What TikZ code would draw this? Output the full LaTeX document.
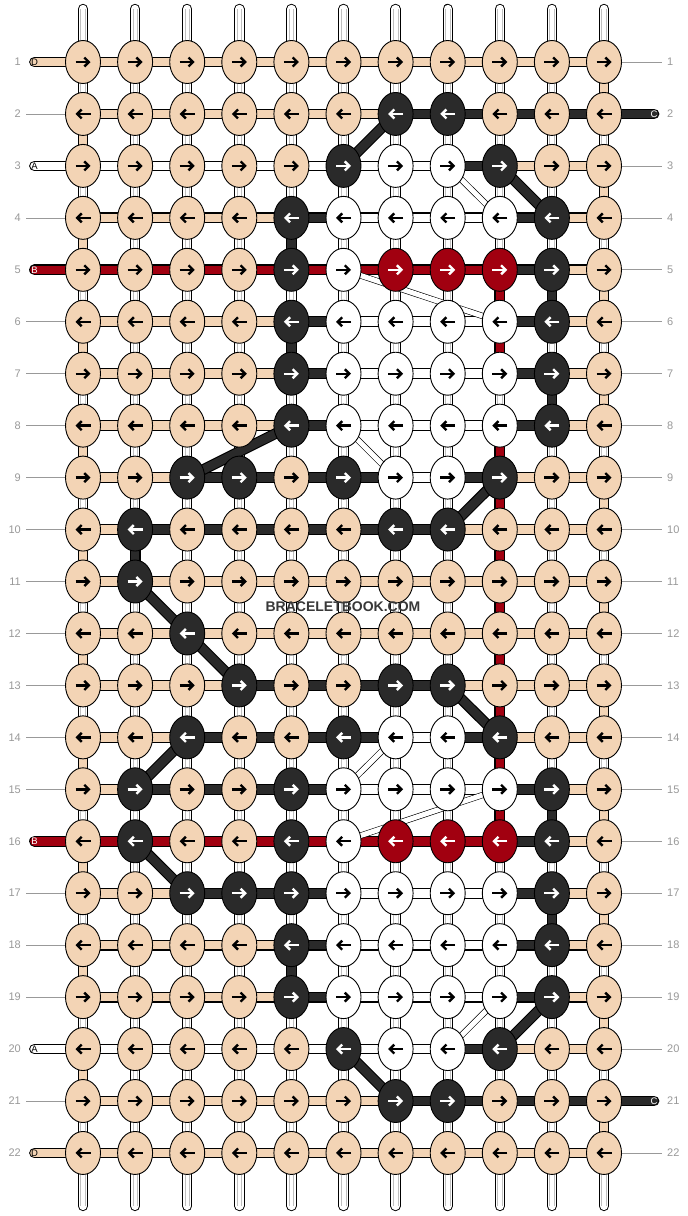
\documentclass[tikz,border=0pt]{standalone}
\usepackage{fontspec}
\setmainfont{Liberation Sans}
\usetikzlibrary{shapes.geometric,arrows.meta,calc}

\definecolor{kP}{HTML}{F3D4B5}
\definecolor{kK}{HTML}{2A2A2A}
\definecolor{kW}{HTML}{FFFFFF}
\definecolor{kR}{HTML}{A10010}
\colorlet{aP}{black}
\colorlet{aW}{black}
\colorlet{aK}{white}
\colorlet{aR}{white}
\colorlet{numgray}{black!40}

\pgfdeclarelayer{strands}
\pgfdeclarelayer{links}
\pgfsetlayers{strands,links,main}

\tikzset{
  knot/.style={ellipse, draw=black, line width=0.9pt, minimum width=35pt, minimum height=43pt, inner sep=0pt, fill=k#1},
  link/.style={line width=1.1pt, draw=black, double=k#1, double distance=8.6pt},
  strand/.style={line width=1pt, draw=black, double=white, double distance=8.4pt, line cap=round},
  thread/.style={line width=0.6pt, draw=black, double=white, double distance=5pt},
  karrow/.style={line width=2.4pt, -{Straight Barb[length=4.5pt,width=9pt]}, color=a#1},
  rownum/.style={text=numgray, font=\fontsize{11}{11}\selectfont, inner sep=0pt},
  tag/.style={font=\fontsize{9.5}{9.5}\selectfont, inner sep=0pt},
  numline/.style={numgray, line width=0.7pt}
}

\begin{document}
\begin{tikzpicture}[x=1pt,y=-1pt]
\useasboundingbox (0,0) rectangle (688,1216);
\begin{pgfonlayer}{strands}
\fill[white] (0,0) rectangle (688,1216);
\end{pgfonlayer}

% knots
\foreach \r/\row in {
  1/{P,P,P,P,P,P,P,P,P,P,P}, 2/{P,P,P,P,P,P,K,K,P,P,P},
  3/{P,P,P,P,P,K,W,W,K,P,P}, 4/{P,P,P,P,K,W,W,W,W,K,P},
  5/{P,P,P,P,K,W,R,R,R,K,P}, 6/{P,P,P,P,K,W,W,W,W,K,P},
  7/{P,P,P,P,K,W,W,W,W,K,P}, 8/{P,P,P,P,K,W,W,W,W,K,P},
  9/{P,P,K,K,P,K,W,W,K,P,P}, 10/{P,K,P,P,P,P,K,K,P,P,P},
  11/{P,K,P,P,P,P,P,P,P,P,P}, 12/{P,P,K,P,P,P,P,P,P,P,P},
  13/{P,P,P,K,P,P,K,K,P,P,P}, 14/{P,P,K,P,P,K,W,W,K,P,P},
  15/{P,K,P,P,K,W,W,W,W,K,P}, 16/{P,K,P,P,K,W,R,R,R,K,P},
  17/{P,P,K,K,K,W,W,W,W,K,P}, 18/{P,P,P,P,K,W,W,W,W,K,P},
  19/{P,P,P,P,K,W,W,W,W,K,P}, 20/{P,P,P,P,P,K,W,W,K,P,P},
  21/{P,P,P,P,P,P,K,K,P,P,P}, 22/{P,P,P,P,P,P,P,P,P,P,P}} {
  \ifodd\r \def\dir{1}\else\def\dir{-1}\fi
  \foreach \col [count=\kc] in \row {
    \node[knot=\col] (k-\r-\kc) at ({83+52.1*(\kc-1)},{62+51.95*(\r-1)}) {};
    \draw[karrow=\col] ($(k-\r-\kc.center)+({-7.5*\dir},0)$) -- ($(k-\r-\kc.center)+({7.5*\dir},0)$);
  }
}

% white warp strands
\begin{pgfonlayer}{strands}
\foreach \kc in {1,...,11} {
  \draw[strand] (k-1-\kc.center) ++(0,-53) -- ($(k-22-\kc.center)+(0,53)$);
  \draw[black!25, line width=0.5pt] ($(k-1-\kc.center)+(-2.3,-53)$) -- ($(k-22-\kc.center)+(-2.3,53)$)
    ($(k-1-\kc.center)+(2.3,-53)$) -- ($(k-22-\kc.center)+(2.3,53)$);
}
\end{pgfonlayer}

\begin{pgfonlayer}{links}
% rows
\foreach \r/\row in {
  1/{P,P,P,P,P,P,P,P,P,P}, 2/{P,P,P,P,P,P,K,K,K,K},
  3/{W,W,W,W,W,W,W,K,P,P}, 4/{P,P,P,P,K,W,W,W,K,P},
  5/{R,R,R,R,R,R,R,R,K,P}, 6/{P,P,P,P,K,W,W,W,K,P},
  7/{P,P,P,P,K,W,W,W,K,P}, 8/{P,P,P,P,K,W,W,W,K,P},
  9/{P,P,K,K,K,K,W,K,P,P}, 10/{P,K,K,K,K,K,K,P,P,P},
  11/{P,P,P,P,P,P,P,P,P,P}, 12/{P,P,P,P,P,P,P,P,P,P},
  13/{P,P,P,K,K,K,K,P,P,P}, 14/{P,P,K,K,K,K,W,K,P,P},
  15/{P,K,K,K,K,W,W,W,K,P}, 16/{R,R,R,R,R,R,R,R,K,P},
  17/{P,P,K,K,K,W,W,W,K,P}, 18/{P,P,P,P,K,W,W,W,K,P},
  19/{P,P,P,P,K,W,W,W,K,P}, 20/{W,W,W,W,W,W,W,K,P,P},
  21/{P,P,P,P,P,P,K,K,K,K}, 22/{P,P,P,P,P,P,P,P,P,P}} {
  \foreach \col [count=\kc] in \row {
    \pgfmathtruncatemacro\n{\kc+1}
    \draw[link=\col] (k-\r-\kc.center) -- (k-\r-\n.center);
  }
}
% turns at the edges
\foreach \g in {1,...,21} {
  \pgfmathtruncatemacro\kc{ifthenelse(mod(\g,2)==1,11,1)}
  \pgfmathtruncatemacro\n{\g+1}
  \draw[link=P] (k-\g-\kc.center) -- (k-\n-\kc.center);
}
\foreach \g/\kc/\col in {4/5/K, 5/9/R, 5/10/K, 6/5/K, 6/9/R, 7/10/K, 8/9/R, 9/9/R,
    10/2/K, 10/9/R, 11/9/R, 12/9/R, 13/9/R, 14/9/R, 15/9/R, 15/10/K, 17/10/K, 18/5/K} {
  \pgfmathtruncatemacro\n{\g+1}
  \draw[link=\col] (k-\g-\kc.center) -- (k-\n-\kc.center);
}
% hidden white threads
\foreach \a/\b/\c/\d in {3/8/4/9, 5/6/6/9, 8/6/9/7, 14/7/15/6, 15/9/16/6, 19/9/20/8}
  \draw[thread] (k-\a-\b.center) -- (k-\c-\d.center);
% black diagonals
\foreach \a/\b/\c/\d in {2/7/3/6, 3/9/4/10, 8/5/9/3, 9/9/10/8, 11/2/12/3, 12/3/13/4,
    13/8/14/9, 14/3/15/2, 16/2/17/3, 19/10/20/9, 20/6/21/7}
  \draw[link=K] (k-\a-\b.center) -- (k-\c-\d.center);
\end{pgfonlayer}

% string ends
\foreach \r/\col/\t/\tc in {1/P/D/black, 3/W/A/black, 5/R/B/white, 16/R/B/white, 20/W/A/black, 22/P/D/black} {
  \node[tag, text=\tc] (t-\r) at ($(k-\r-1.center)+(-48.5,0)$) {\t};
  \begin{pgfonlayer}{links}
  \draw[link=\col, line cap=round] (t-\r.center) -- (k-\r-1.center);
  \end{pgfonlayer}
}
\foreach \r in {2,21} {
  \node[tag, text=white] (t-\r) at ($(k-\r-11.center)+(50,0)$) {C};
  \begin{pgfonlayer}{links}
  \draw[link=K, line cap=round] (k-\r-11.center) -- (t-\r.center);
  \end{pgfonlayer}
}

% row numbers
\foreach \r in {1,...,22} {
  \node[rownum, anchor=east] (nl-\r) at ($(k-\r-1.center)+(-62,0)$) {\r};
  \node[rownum, anchor=west] (nr-\r) at ($(k-\r-11.center)+(63,0)$) {\r};
}
\foreach \r in {2,4,6,7,8,9,10,11,12,13,14,15,17,18,19,21}
  \draw[numline] ($(nl-\r.east)+(5,0)$) -- (k-\r-1.west);
\foreach \r in {1,3,4,5,6,7,8,9,10,11,12,13,14,15,16,17,18,19,20,22}
  \draw[numline] (k-\r-11.east) -- ($(nr-\r.west)+(-5,0)$);

\node[font=\bfseries\fontsize{14}{14}\selectfont, text=black!78] (mark) at (343,607) {BRACELETBOOK.COM};
\end{tikzpicture}
\end{document}
